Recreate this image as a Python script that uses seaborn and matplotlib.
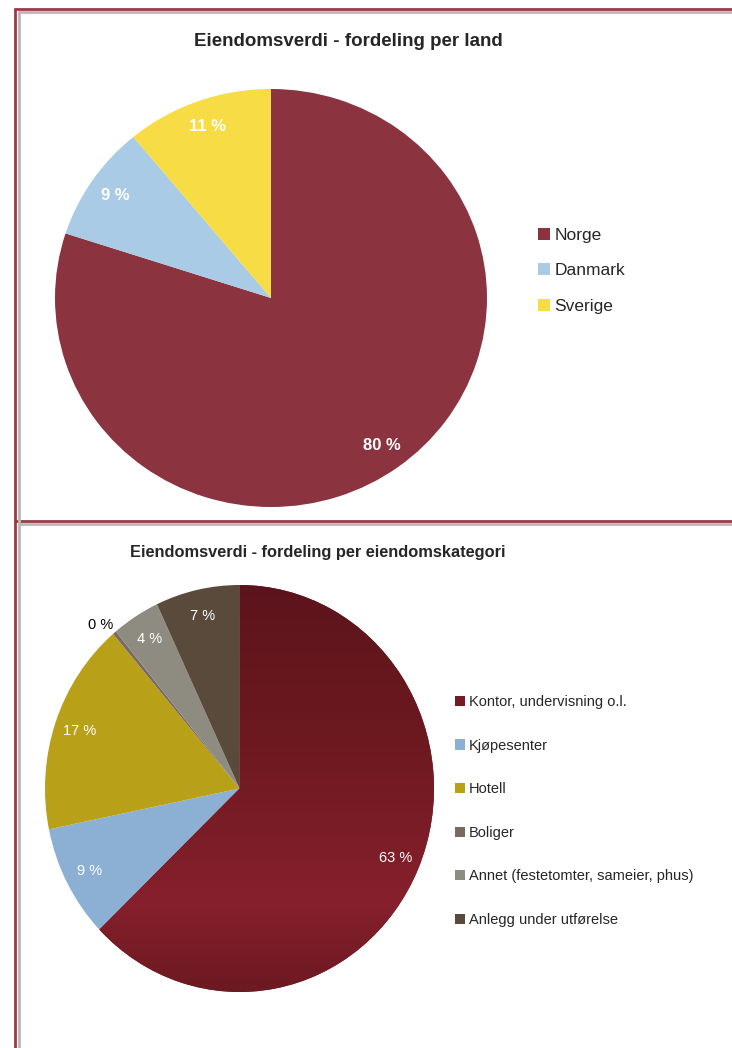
import matplotlib
matplotlib.use("Agg")
import numpy as np
import matplotlib.pyplot as plt
from matplotlib.lines import Line2D
from matplotlib.colors import LinearSegmentedColormap
import seaborn as sns

land = ["Norge", "Danmark", "Sverige"]
land_pct = [80, 9, 11]
land_colors = ["#8B3440", "#AACBE6", "#F7DC45"]

kategori = ["Kontor, undervisning o.l.", "Kjøpesenter", "Hotell", "Boliger",
            "Annet (festetomter, sameier, phus)", "Anlegg under utførelse"]
kategori_pct = [63, 9, 17, 0.3, 4, 7]
kategori_labels = ["63 %", "9 %", "17 %", "0 %", "4 %", "7 %"]
kategori_colors = ["#741B25", "#8BB0D3", "#B8A018", "#7A6A5E", "#8E8C80", "#5A4A3B"]

sns.set_theme(style="white")
plt.rcParams['font.family'] = ['Liberation Sans', 'DejaVu Sans']

W, H = 732, 1048
fig = plt.figure(figsize=(W / 100, H / 100), dpi=100)


def px_axes(x0, y0, x1, y1):
    return fig.add_axes([x0 / W, 1 - y1 / H, (x1 - x0) / W, (y1 - y0) / H])


def fx(x):
    return x / W


def fy(y):
    return 1 - y / H


# page borders
for y, c, x0 in [(9, "#9B3A48", 15), (12, "#B8B8B8", 19), (521, "#9B3A48", 15), (524, "#B8B8B8", 19)]:
    fig.add_artist(Line2D([fx(x0), 1], [fy(y), fy(y)], color=c, lw=2))
fig.add_artist(Line2D([fx(15), fx(15)], [fy(9), 0], color="#9B3A48", lw=2))
fig.add_artist(Line2D([fx(19), fx(19)], [fy(12), 0], color="#B8B8B8", lw=2))

# top chart
ax1 = px_axes(55, 89, 487, 507)
wedges1, _, auto1 = ax1.pie(land_pct, colors=land_colors, startangle=90, counterclock=False,
                            autopct=lambda p: f"{p:.0f} %", pctdistance=0.87,
                            textprops=dict(color="white", fontsize=12, fontweight="bold"),
                            wedgeprops=dict(edgecolor="none", linewidth=0))
ax1.set_aspect("auto")
ax1.set_xlim(-1, 1)
ax1.set_ylim(-1, 1)
ax1.axis("off")
fig.text(fx(348), fy(41), "Eiendomsverdi - fordeling per land", ha="center", va="center",
         fontsize=13.5, fontweight="bold")
fig.legend(wedges1, land, loc="upper left", bbox_to_anchor=(fx(538), fy(228)),
           frameon=False, fontsize=12.5, labelspacing=1.16, handlelength=0.7,
           handleheight=0.7, handletextpad=0.25, borderpad=0, borderaxespad=0)

# bottom chart
ax2 = px_axes(45, 585, 434, 992)
wedges2, _, auto2 = ax2.pie(kategori_pct, colors=kategori_colors, startangle=90, counterclock=False,
                            labels=None, autopct="%1.0f", pctdistance=0.87,
                            textprops=dict(color="white", fontsize=10.5, zorder=5),
                            wedgeprops=dict(edgecolor="none", linewidth=0))
for t, lab in zip(auto2, kategori_labels):
    t.set_text(lab)
# the tiny Boliger slice gets its label outside in black
x, y = auto2[3].get_position()
auto2[3].set_position((x / 0.87 * 1.05 - 0.04, y / 0.87 * 1.05))
auto2[3].set_color("black")

# vertical shading on the Kontor slice
shade = LinearSegmentedColormap.from_list(
    "kontor", [(0, "#6C1921"), (0.22, "#86202C"), (0.6, "#6E1920"), (1, "#5C141C")])
grad = np.linspace(0, 1, 256).reshape(-1, 1)
img = ax2.imshow(grad, cmap=shade, extent=(-1, 1, -1, 1), origin="lower", zorder=2,
                 aspect="auto")
img.set_clip_path(wedges2[0])

ax2.set_aspect("auto")
ax2.set_xlim(-1, 1)
ax2.set_ylim(-1, 1)
ax2.axis("off")
fig.text(fx(318), fy(552), "Eiendomsverdi - fordeling per eiendomskategori", ha="center",
         va="center", fontsize=11.8, fontweight="bold")
fig.legend(wedges2, kategori, loc="upper left", bbox_to_anchor=(fx(455), fy(695)),
           frameon=False, fontsize=10.5, labelspacing=2.03, handlelength=0.7,
           handleheight=0.7, handletextpad=0.25, borderpad=0, borderaxespad=0)

fig.savefig("out.png", dpi=100)
